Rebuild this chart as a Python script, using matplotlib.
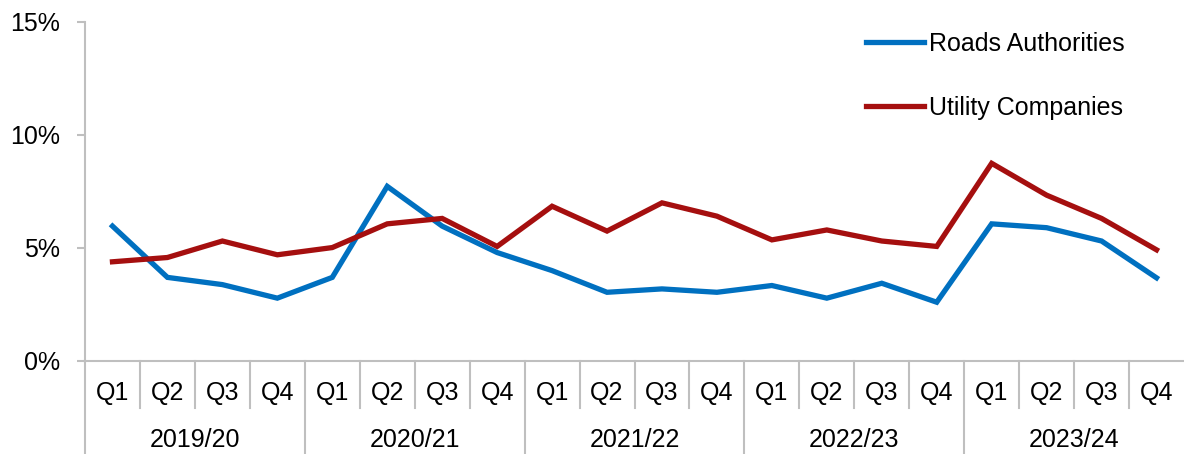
import matplotlib
matplotlib.use("Agg")
import matplotlib.pyplot as plt
import matplotlib.transforms as mtransforms
from matplotlib.ticker import FuncFormatter

plt.rcParams['font.family'] = ['Liberation Sans', 'DejaVu Sans']

years = ["2019/20", "2020/21", "2021/22", "2022/23", "2023/24"]
quarters = ["Q1", "Q2", "Q3", "Q4"]
roads = [5.95, 3.68, 3.36, 2.76,
         3.68, 7.71, 5.95, 4.78,
         3.98, 3.02, 3.17, 3.02,
         3.32, 2.76, 3.42, 2.58,
         6.05, 5.88, 5.29, 3.66]
utility = [4.37, 4.56, 5.29, 4.68,
           5.00, 6.05, 6.29, 5.05,
           6.83, 5.73, 6.98, 6.39,
           5.34, 5.78, 5.29, 5.05,
           8.73, 7.32, 6.29, 4.90]
series_names = ["Roads Authorities", "Utility Companies"]
colors = ["#0070C0", "#A50F0F"]

W, H = 1184, 454
FS = 18
fig = plt.figure(figsize=(W / 100, H / 100), dpi=100)
ax_left, ax_right, ax_top, ax_bot = 85, 1184, 21.7, 360.5
ax = fig.add_axes([ax_left / W, 1 - ax_bot / H, (ax_right - ax_left) / W, (ax_bot - ax_top) / H])

n = len(roads)
x = list(range(n))
ax.plot(x, roads, color=colors[0], lw=3.8, solid_joinstyle='miter', label=series_names[0])
ax.plot(x, utility, color=colors[1], lw=3.8, solid_joinstyle='miter', label=series_names[1])

ax.set_xlim(-0.5, n - 0.5)
ax.set_ylim(0, 15)
ax.set_yticks([0, 5, 10, 15])
ax.yaxis.set_major_formatter(FuncFormatter(lambda v, p: f"{v:.0f}%"))
ax.tick_params(axis='y', direction='out', length=6, width=1.5, color='#BFBFBF',
               labelsize=FS, pad=12, labelcolor='black')
ax.set_xticks([])
for s in ['top', 'right']:
    ax.spines[s].set_visible(False)
for s in ['left', 'bottom']:
    ax.spines[s].set_color('#BFBFBF')
    ax.spines[s].set_linewidth(1.5)

trans = mtransforms.blended_transform_factory(ax.transData, ax.transAxes)
span = ax_bot - ax_top
q_label_y = -(393 - ax_bot) / span
yr_label_y = -(440 - ax_bot) / span
q_sep_y = -(408 - ax_bot) / span
yr_sep_y = -(H - ax_bot) / span

for i in range(n):
    ax.text(i, q_label_y, quarters[i % 4], transform=trans, ha='center', va='center', fontsize=FS)
for k in range(1, n + 1):
    xb = k - 0.5
    if k % 4 == 0:
        continue
    ax.plot([xb, xb], [0, q_sep_y], transform=trans, color='#BFBFBF', lw=1.5, clip_on=False)
for j, yr in enumerate(years):
    ax.text(j * 4 + 1.5, yr_label_y, yr, transform=trans, ha='center', va='center', fontsize=FS)
for j in range(len(years)):
    xb = j * 4 - 0.5
    ax.plot([xb, xb], [0, yr_sep_y], transform=trans, color='#BFBFBF', lw=1.5, clip_on=False)

leg = ax.legend(loc='upper left', bbox_to_anchor=(866 / W, 1 - 32 / H),
                bbox_transform=fig.transFigure, frameon=False, fontsize=FS,
                handlelength=2.3, handletextpad=0.2, labelspacing=1.6,
                borderpad=0, borderaxespad=0)

fig.savefig("out.png", dpi=100)
